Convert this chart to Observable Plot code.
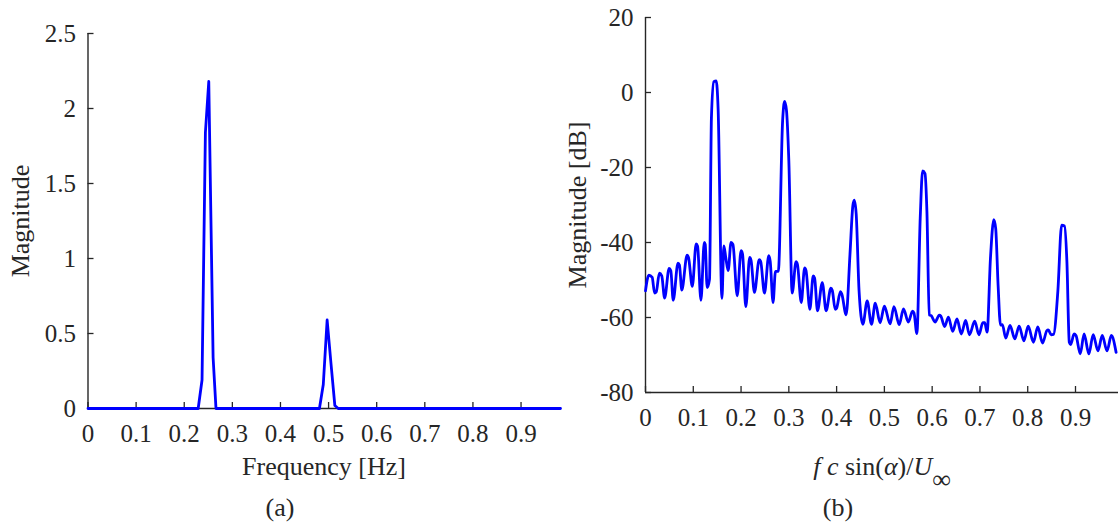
<!DOCTYPE html>
<html><head><meta charset="utf-8">
<script src="https://cdn.jsdelivr.net/npm/d3@7"></script>
<script src="https://cdn.jsdelivr.net/npm/@observablehq/plot@0.6"></script>
<style>
body{margin:0;background:#fff;}
#wrap{position:relative;width:1118px;height:529px;overflow:hidden;font-family:"Liberation Serif","Times New Roman",serif;color:#262626;background:#fff;}
.panel{position:absolute;top:0;}
.lbl{position:absolute;font-size:26px;white-space:nowrap;line-height:1;}
</style></head><body>
<div id="wrap">
  <div id="pa" class="panel" style="left:0px"></div>
  <div id="pb" class="panel" style="left:560px"></div>
  <div class="lbl" style="left:324px;top:467px;transform:translate(-50%,-50%)">Frequency [Hz]</div>
  <div class="lbl" style="left:21px;top:221px;transform:translate(-50%,-50%) rotate(-90deg)">Magnitude</div>
  <div class="lbl" style="left:578px;top:205px;transform:translate(-50%,-50%) rotate(-90deg)">Magnitude [dB]</div>
  <div class="lbl" style="left:882px;top:467px;transform:translate(-50%,-50%)"><i>f</i> <i>c</i> sin(<i>α</i>)/<i>U</i><span style="position:relative;top:13px;">∞</span></div>
  <div class="lbl" style="left:280px;top:508px;transform:translate(-50%,-50%)">(a)</div>
  <div class="lbl" style="left:838px;top:508px;transform:translate(-50%,-50%)">(b)</div>
</div>
<script>
// Panel (a): spectrum magnitude vs frequency [Hz]
const freqA = [0, 0.229, 0.237, 0.244, 0.251, 0.260, 0.266, 0.481, 0.489, 0.497, 0.505, 0.513, 0.520, 0.982];
const magA  = [0, 0,     0.19,  1.84,  2.18,  0.34,  0,     0,     0.16,  0.59,  0.30,  0.02,  0,     0];
const xTicks = [0, 0.1, 0.2, 0.3, 0.4, 0.5, 0.6, 0.7, 0.8, 0.9];
const yTicksA = [0, 0.5, 1, 1.5, 2, 2.5];

// Panel (b): magnitude in dB vs f c sin(alpha)/U_inf
const freqB = [0, 0.007, 0.014, 0.019, 0.0225, 0.029, 0.034, 0.040, 0.0495, 0.053, 0.058, 0.068, 0.071, 0.076, 0.087, 0.090, 0.098, 0.106, 0.109, 0.116, 0.123, 0.125, 0.129, 0.134, 0.138, 0.143, 0.148, 0.152, 0.160, 0.164, 0.168, 0.173, 0.179, 0.183, 0.192, 0.200, 0.203, 0.210, 0.218, 0.221, 0.228, 0.238, 0.241, 0.249, 0.258, 0.261, 0.267, 0.272, 0.278, 0.287, 0.291, 0.295, 0.300, 0.307, 0.315, 0.318, 0.326, 0.333, 0.336, 0.344, 0.351, 0.354, 0.360, 0.370, 0.378, 0.388, 0.391, 0.397, 0.400, 0.408, 0.411, 0.420, 0.428, 0.434, 0.437, 0.441, 0.447, 0.455, 0.464, 0.473, 0.481, 0.491, 0.500, 0.512, 0.520, 0.531, 0.540, 0.550, 0.559, 0.562, 0.568, 0.575, 0.580, 0.585, 0.589, 0.594, 0.598, 0.606, 0.615, 0.618, 0.626, 0.634, 0.643, 0.652, 0.661, 0.670, 0.678, 0.689, 0.698, 0.706, 0.710, 0.715, 0.722, 0.729, 0.733, 0.738, 0.743, 0.747, 0.754, 0.763, 0.773, 0.782, 0.792, 0.801, 0.812, 0.821, 0.831, 0.840, 0.843, 0.849, 0.854, 0.863, 0.871, 0.877, 0.882, 0.887, 0.890, 0.897, 0.901, 0.910, 0.918, 0.928, 0.937, 0.947, 0.956, 0.966, 0.975, 0.985];
const magB  = [-52.9, -48.7, -49.3, -53.5, -53.2, -48.2, -48.9, -54.8, -46.9, -47.5, -55.4, -45.5, -46, -52.7, -43.4, -44, -51.7, -40.4, -41, -55.4, -40, -40.5, -52, -49.8, -6.7, 2.9, 3.1, -4.4, -54.9, -40.9, -44, -47.5, -40, -40.5, -54.2, -42.2, -43, -57.1, -44, -44.8, -53.3, -44.6, -45, -53.5, -43.5, -45, -56, -47.7, -47.7, -7.5, -2.4, -4.7, -18.2, -53.5, -45.1, -45.8, -56, -46.8, -47.5, -57.8, -48.9, -49.5, -58.2, -50.7, -58.2, -52.2, -52.8, -57.8, -57.5, -53.1, -53.8, -59.3, -43.1, -30.2, -28.7, -32.4, -52.9, -61.8, -55.6, -61.8, -56.2, -61.4, -57, -61.7, -57.1, -61.9, -57.7, -61.2, -58.3, -58.8, -64.3, -33.5, -20.9, -21.6, -31.7, -59.3, -59.5, -61.2, -59.4, -59.6, -62.4, -59.9, -63.7, -60.4, -64.4, -60.8, -64.6, -61, -64.6, -61.4, -61.4, -63.9, -44.2, -33.9, -36.3, -51.4, -62, -61.9, -65.5, -62.1, -65.7, -62.3, -66.2, -62.3, -66.6, -62.5, -66.8, -63.5, -63.3, -64.6, -64.5, -53.1, -35.4, -35.6, -45.1, -66.6, -67.2, -64.4, -64.8, -69.7, -64.4, -69.7, -64.6, -68.9, -64.8, -68.9, -64.8, -69.3];
const yTicksB = [-80, -60, -40, -20, 0, 20];

const H = 529;
const AX = "#262626";
const BLUE = "#0000ff";
const fmt = d => String(d);
const baseStyle = {fontFamily: '"Liberation Serif","Times New Roman",serif', fontSize: "25px", color: "#262626", background: "transparent", overflow: "visible"};

function panel({width, mL, mT, yBottom, xDomain, yDomain, yTicks, data, curve, yBase}) {
  const fw = width - mL;
  const fh = yBottom - mT;
  return Plot.plot({
    width, height: H,
    marginLeft: mL, marginRight: 0, marginTop: mT, marginBottom: H - yBottom,
    x: {domain: xDomain},
    y: {domain: yDomain},
    style: baseStyle,
    marks: [
      Plot.axisX(xTicks, {tickSize: 0, tickPadding: 16, tickFormat: fmt, label: null, fill: AX}),
      Plot.axisY(yTicks, {tickSize: 0, tickPadding: 12, tickFormat: fmt, label: null, fill: AX}),
      Plot.tickX(xTicks, {x: d => d, insetTop: fh - 6, stroke: AX, strokeWidth: 1.3}),
      Plot.tickY(yTicks, {y: d => d, insetRight: fw - 6, stroke: AX, strokeWidth: 1.3}),
      Plot.ruleX([0], {stroke: AX, strokeWidth: 1.4}),
      Plot.ruleY([yBase], {stroke: AX, strokeWidth: 1.4}),
      Plot.line(data, {x: "f", y: "m", stroke: BLUE, strokeWidth: 2.8, curve, strokeLinejoin: "round"})
    ]
  });
}

const dataA = freqA.map((f, i) => ({f, m: magA[i]}));
const dataB = freqB.map((f, i) => ({f, m: magB[i]}));

document.getElementById("pa").appendChild(panel({
  width: 560, mL: 87.5, mT: 33, yBottom: 408,
  xDomain: [0, 0.982], yDomain: [0, 2.5], yTicks: yTicksA,
  data: dataA, curve: "linear", yBase: 0
}));
document.getElementById("pb").appendChild(panel({
  width: 558, mL: 85, mT: 17, yBottom: 392,
  xDomain: [0, 0.99], yDomain: [-80, 20], yTicks: yTicksB,
  data: dataB, curve: "monotone-x", yBase: -80
}));
</script>
</body></html>
